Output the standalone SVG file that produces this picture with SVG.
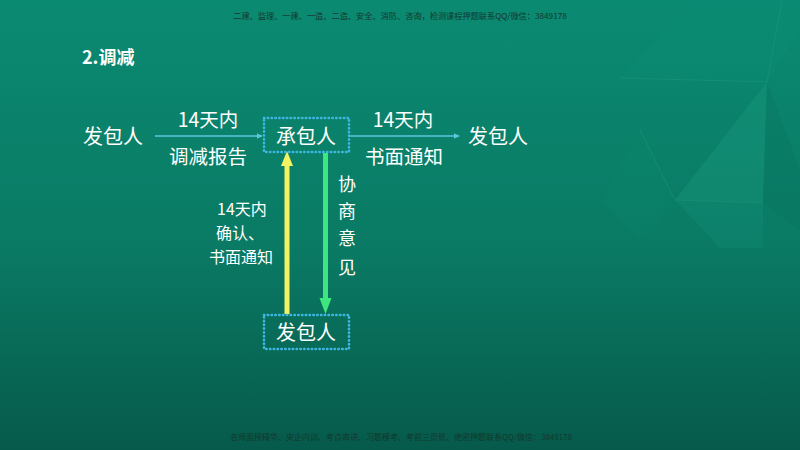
<svg xmlns="http://www.w3.org/2000/svg" width="800" height="450" viewBox="0 0 800 450">
<defs>
<linearGradient id="bg" x1="0" y1="0" x2="0" y2="1">
<stop offset="0" stop-color="#0b8a72"/>
<stop offset="0.55" stop-color="#0a7a64"/>
<stop offset="1" stop-color="#065a4b"/>
</linearGradient>
<marker id="thin" viewBox="0 0 10 10" refX="9" refY="5" markerWidth="6" markerHeight="6" markerUnits="userSpaceOnUse" orient="auto">
<path d="M0,0 L10,5 L0,10 z" fill="#5cc6de"/>
</marker>
<style>
.t{font-family:"Noto Sans CJK SC","Noto Sans",sans-serif;fill:#ffffff;}
.m{font-family:"Noto Sans CJK SC",sans-serif;fill:#14382e;text-anchor:middle;}
.box{fill:none;stroke:#3fb6e0;stroke-width:2.6;stroke-dasharray:0.4 3.4;stroke-linecap:round;}
.ln{stroke:#5cc6de;stroke-width:1.3;fill:none;}
.c{text-anchor:middle;}
</style>
</defs>
<rect width="800" height="450" fill="url(#bg)"/>
<g opacity="0.5">
<polygon points="693,0 800,0 800,30 767,82 620,78" fill="#0e9078" opacity="0.5"/>
<polygon points="767,82 675,200 763,203" fill="#21a486" opacity="0.55"/>
<polygon points="767,82 800,170 800,230 763,203" fill="#08705c" opacity="0.5"/>
<polygon points="675,200 763,203 763,248 720,248" fill="#1a9a80" opacity="0.45"/>
<polygon points="640,130 675,200 640,240 600,200" fill="#0c8a70" opacity="0.35"/>
<polyline points="620,78 767,82 782,0" fill="none" stroke="#2aa78a" stroke-width="1" opacity="0.6"/>
<polyline points="640,130 675,200 763,203" fill="none" stroke="#2aa78a" stroke-width="1" opacity="0.6"/>
</g>
<text class="m" x="400" y="19" font-size="8.2">二建、监理、一建、一造、二造、安全、消防、咨询，检测课程押题联系QQ/微信：3849178</text>
<text class="m" x="401" y="440" font-size="8">名师面授精华、央企内训、考点串讲、习题模考、考前三页纸、绝密押题联系QQ/微信：3849178</text>
<text class="t" x="82" y="64" font-size="18" font-weight="bold">2.调减</text>
<g id="connectors">
<line class="ln" x1="155" y1="136" x2="262" y2="136" marker-end="url(#thin)"/>
<line class="ln" x1="350" y1="136" x2="459" y2="136" marker-end="url(#thin)"/>
<rect x="284.5" y="164" width="5" height="150" fill="#f2f263"/>
<polygon points="281,166 287,151 293,166" fill="#f2f263"/>
<rect x="323" y="153" width="5" height="146" fill="#3ee67e"/>
<polygon points="319.5,298 331.5,298 325.5,314" fill="#3ee67e"/>
</g>
<g id="label-top-left">
<text class="t c" x="208" y="127" font-size="19.5">14天内</text>
<text class="t c" x="208" y="164" font-size="19.5">调减报告</text>
</g>
<g id="label-top-right">
<text class="t c" x="403" y="127" font-size="19.5">14天内</text>
<text class="t c" x="404" y="164" font-size="19.5">书面通知</text>
</g>
<g id="label-confirm">
<text class="t c" x="242" y="215" font-size="16">14天内</text>
<text class="t c" x="240" y="239" font-size="16">确认、</text>
<text class="t c" x="241" y="263" font-size="16">书面通知</text>
</g>
<g id="label-consult">
<text class="t c" x="347" y="191" font-size="18">协</text>
<text class="t c" x="347" y="218" font-size="18">商</text>
<text class="t c" x="347" y="245" font-size="18">意</text>
<text class="t c" x="347" y="274" font-size="18">见</text>
</g>
<g id="node-employer-left">
<text class="t c" x="113" y="144" font-size="20">发包人</text>
</g>
<g id="node-contractor">
<rect class="box" x="264" y="118" width="85" height="34"/>
<text class="t c" x="306" y="144" font-size="20">承包人</text>
</g>
<g id="node-employer-right">
<text class="t c" x="498" y="144" font-size="20">发包人</text>
</g>
<g id="node-employer-bottom">
<rect class="box" x="264" y="315" width="85" height="34"/>
<text class="t c" x="306" y="340" font-size="20">发包人</text>
</g>
</svg>
